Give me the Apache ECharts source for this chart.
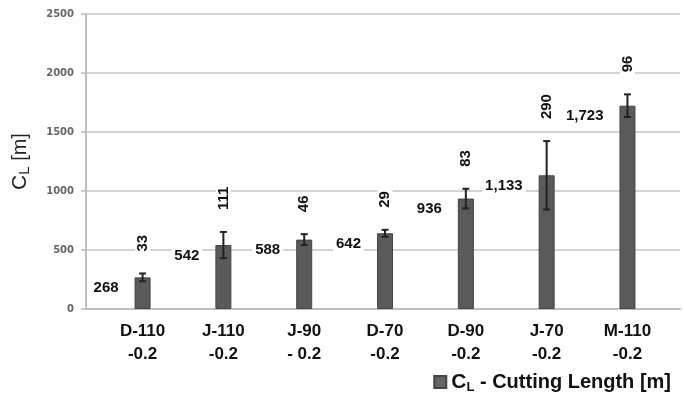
<!DOCTYPE html>
<html>
<head>
<meta charset="utf-8">
<script src="https://cdn.jsdelivr.net/npm/echarts@6/dist/echarts.min.js"></script>
<style>html,body{margin:0;padding:0;background:#fff}#c{width:684px;height:402px}</style>
</head>
<body>
<div id="c"></div>
<script>
const categories = ['D-110\n-0.2', 'J-110\n-0.2', 'J-90\n- 0.2', 'D-70\n-0.2', 'D-90\n-0.2', 'J-70\n-0.2', 'M-110\n-0.2'];
const values = [268, 542, 588, 642, 936, 1133, 1723];
const errors = [33, 111, 46, 29, 83, 290, 96];
const yTicks = [0, 500, 1000, 1500, 2000, 2500];

const FONT = '"Liberation Sans", Arial, sans-serif';
const chart = echarts.init(document.getElementById('c'));
const fmt = v => v.toLocaleString('en-US');

chart.setOption({
  animation: false,
  backgroundColor: '#fff',
  textStyle: { fontFamily: FONT },
  grid: { left: 86, right: 4, top: 14, bottom: 93, containLabel: false },
  legend: {
    right: 8, bottom: 3,
    icon: 'rect', itemWidth: 12, itemHeight: 12, itemGap: 6,
    itemStyle: { color: '#666' },
    data: ['CL'],
    formatter: () => '{c|C}{l|L}{t| - Cutting Length [m]}',
    textStyle: {
      fontFamily: FONT, fontWeight: 'bold', color: '#111',
      rich: {
        c: { fontSize: 21, fontWeight: 'bold', fontFamily: FONT, color: '#111', lineHeight: 22 },
        l: { fontSize: 13, fontWeight: 'bold', fontFamily: FONT, color: '#111', padding: [11, 0, 0, 0] },
        t: { fontSize: 20, fontWeight: 'bold', fontFamily: FONT, color: '#111', lineHeight: 22 }
      }
    }
  },
  xAxis: {
    type: 'value', min: -0.7, max: 6.65,
    axisLine: { show: true, onZero: false, lineStyle: { color: '#bdbdbd', width: 2 } },
    axisTick: { show: false },
    splitLine: { show: false },
    axisLabel: {
      customValues: categories.map((_, i) => i),
      formatter: v => categories[Math.round(v)] || '',
      fontFamily: FONT, fontSize: 17, fontWeight: 'bold', color: '#111',
      lineHeight: 23, margin: 11
    }
  },
  yAxis: {
    type: 'value', min: 0, max: 2500, interval: 500,
    name: '{c|C}{l|L}{t| [m]}',
    nameLocation: 'middle', nameRotate: 90, nameGap: 54,
    nameTextStyle: {
      rich: {
        c: { fontSize: 21, fontFamily: FONT, color: '#222', lineHeight: 22 },
        l: { fontSize: 15, fontFamily: FONT, color: '#222', padding: [9, 0, 0, 0] },
        t: { fontSize: 20, fontFamily: FONT, color: '#222', lineHeight: 22 }
      }
    },
    axisLine: { show: true, onZero: false, lineStyle: { color: '#bdbdbd', width: 2 } },
    axisTick: { show: true, length: 5, lineStyle: { color: '#bdbdbd', width: 1.5 } },
    splitLine: { show: true, lineStyle: { color: '#c4c4c4', width: 1.5 } },
    axisLabel: {
      customValues: yTicks,
      formatter: v => String(v),
      fontFamily: '"DejaVu Sans", sans-serif', fontSize: 10, fontWeight: 'bold', color: '#666', margin: 12
    }
  },
  series: [
    {
      name: 'CL',
      type: 'bar',
      barWidth: 16,
      data: values.map((v, i) => [i, v]),
      itemStyle: { color: '#5a5a5a', borderColor: '#444', borderWidth: 1 },
      z: 2
    },
    {
      type: 'custom',
      data: values.map((v, i) => [i, v, errors[i]]),
      z: 5,
      clip: false,
      renderItem: (params, api) => {
        const i = api.value(0), v = api.value(1), e = api.value(2);
        const p = api.coord([i, v]);
        const t = api.coord([i, v + e]);
        const b = api.coord([i, v - e]);
        const cap = 3.5;
        const ls = { stroke: '#222', lineWidth: 2 };
        return {
          type: 'group',
          children: [
            { type: 'line', shape: { x1: t[0], y1: t[1], x2: b[0], y2: b[1] }, style: ls },
            { type: 'line', shape: { x1: t[0] - cap, y1: t[1], x2: t[0] + cap, y2: t[1] }, style: ls },
            { type: 'line', shape: { x1: b[0] - cap, y1: b[1], x2: b[0] + cap, y2: b[1] }, style: ls },
            {
              type: 'text', x: t[0], y: t[1] - 19, rotation: Math.PI / 2,
              style: {
                text: String(e), fill: '#111', fontFamily: FONT, fontSize: 15, fontWeight: 'bold',
                align: 'left', verticalAlign: 'middle',
                backgroundColor: '#fff', padding: [0, 3, 0, 3]
              }
            },
            {
              type: 'text', x: p[0] - 21, y: p[1] + 3,
              style: {
                text: fmt(v), fill: '#111', fontFamily: FONT, fontSize: 15, fontWeight: 'bold',
                align: 'right', verticalAlign: 'top',
                backgroundColor: '#fff', padding: [0, 3, 0, 3]
              }
            }
          ]
        };
      }
    }
  ]
});
</script>
</body>
</html>
